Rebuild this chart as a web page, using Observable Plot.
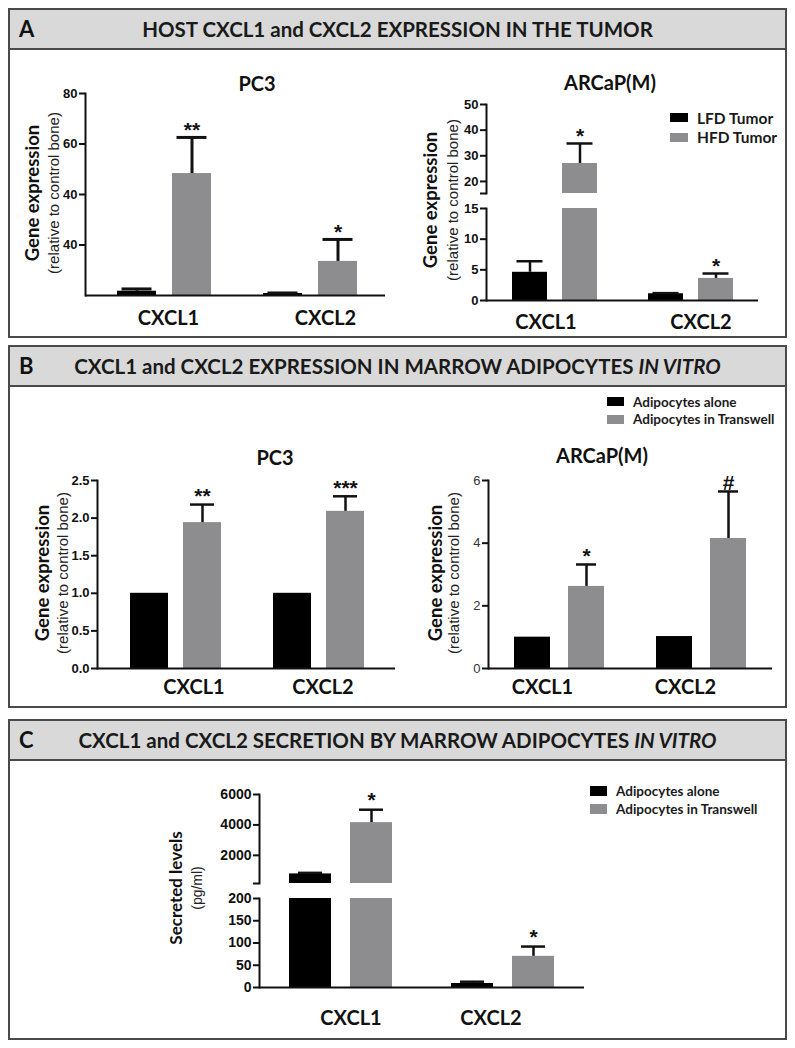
<!DOCTYPE html>
<html>
<head>
<meta charset="utf-8">
<script src="https://cdn.jsdelivr.net/npm/d3@7"></script>
<script src="https://cdn.jsdelivr.net/npm/@observablehq/plot@0.6"></script>
<style>
  body { margin: 0; background: #fff; }
  #page { position: relative; width: 795px; height: 1048px; overflow: hidden; font-family: Lato, "Open Sans", sans-serif; color: #111; }
  .panel { position: absolute; left: 8px; width: 779px; border: 2px solid #4a4a4a; box-sizing: border-box; background: #fff; }
  .hdr { position: absolute; left: 0; right: 0; top: 0; height: 40px; background: #d9d9d9; border-bottom: 2px solid #4a4a4a; box-sizing: border-box; }
  .letter { position: absolute; left: 9px; top: 50%; transform: translateY(-52%); font-weight: 700; font-size: 22px; }
  .htitle { position: absolute; left: 0; right: 0; top: 50%; transform: translateY(-52%); text-align: center; font-weight: 700; font-size: 20.5px; white-space: nowrap; color: #1a1a1a; }
  .abs { position: absolute; }
  .center { position: absolute; transform: translate(-50%, -50%); white-space: nowrap; }
  .ytitle { position: absolute; transform: translate(-50%, -50%) rotate(-90deg); white-space: nowrap; }
  .ymain { font-weight: 700; font-size: 18.5px; }
  .ysub { font-family: "Liberation Sans", Arial, sans-serif; font-size: 15px; color: #222; }
  .ctitle { font-weight: 700; font-size: 20px; }
  .sw { position: absolute; }
  .lg { position: absolute; transform: translateY(-50%); white-space: nowrap; font-weight: 700; color: #1a1a1a; }
  svg text { font-weight: bold; }
  svg.lighttick g[aria-label="y-axis tick label"] text { font-weight: normal; }
</style>
</head>
<body>
<div id="page"></div>
<script>
// ---------------- DATA ----------------
const genes = ["CXCL1", "CXCL2"];

// Panel A — host CXCL1/CXCL2 in the tumor
const seriesA = ["LFD Tumor", "HFD Tumor"];
// PC3
const aPC3_lfd = [1.7, 0.8];
const aPC3_lfdErr = [2.6, 1.0];
const aPC3_hfd = [48.3, 13.5];
const aPC3_hfdErr = [62.6, 22.2];
const aPC3_sig = ["**", "*"];
const aPC3_yTicks = [20, 40, 60, 80];
const aPC3_yTickLabels = ["40", "40", "60", "80"];
// ARCaP(M)
const aARC_lfd = [4.6, 1.1];
const aARC_lfdErr = [6.4, 1.2];
const aARC_hfd = [27.0, 3.6];
const aARC_hfdErr = [34.8, 4.4];
const aARC_sig = ["*", "*"];
const aARC_yTicksLow = [0, 5, 10, 15];
const aARC_yTicksHigh = [20, 30, 40, 50];

// Panel B — expression in marrow adipocytes in vitro
const seriesB = ["Adipocytes alone", "Adipocytes in Transwell"];
// PC3
const bPC3_alone = [1.0, 1.0];
const bPC3_trans = [1.94, 2.09];
const bPC3_transErr = [2.18, 2.29];
const bPC3_sig = ["**", "***"];
const bPC3_yTicks = [0, 0.5, 1.0, 1.5, 2.0, 2.5];
// ARCaP(M)
const bARC_alone = [1.0, 1.02];
const bARC_trans = [2.62, 4.15];
const bARC_transErr = [3.32, 5.65];
const bARC_sig = ["*", "#"];
const bARC_yTicks = [0, 2, 4, 6];

// Panel C — secretion (pg/ml)
const seriesC = ["Adipocytes alone", "Adipocytes in Transwell"];
const c_alone = [780, 9];
const c_aloneErr = [850, 13];
const c_trans = [4150, 70];
const c_transErr = [5000, 92];
const c_sig = ["*", "*"];
const c_yTicksLow = [0, 50, 100, 150, 200];
const c_yTicksHigh = [2000, 4000, 6000];

// ---------------- HELPERS ----------------
const COLORS = ["#000000", "#8d8d90"];
const page = document.getElementById("page");

function rows(v0, e0, v1, e1, sig) {
  const out = [];
  genes.forEach((g, i) => {
    out.push({gene: g, s: 0, value: v0[i], err: e0 ? e0[i] : null, sig: null});
    out.push({gene: g, s: 1, value: v1[i], err: e1 ? e1[i] : null, sig: sig[i]});
  });
  return out;
}

function el(cls, html, style) {
  const d = document.createElement("div");
  d.className = cls;
  d.innerHTML = html;
  Object.assign(d.style, style);
  page.appendChild(d);
  return d;
}

function chart(data, cfg) {
  const ml = 50, mr = 10, mt = 40, mb = 50;
  const {L, R, top, bottom, g1s, g2e, gw, bw, cw, domain} = cfg;
  const width = R - L + ml + mr, height = bottom - top + mt + mb;
  const step = (g2e - gw) - g1s;
  const outerL = g1s - L, outerR = R - g2e;
  const inSeg = d => d.err != null && d.err >= domain[0] && d.err <= domain[1];
  const sw = cfg.errWidth ?? 2.5;
  const marks = [];
  for (const s of [0, 1]) {
    const sd = data.filter(d => d.s === s);
    const ins = s === 0 ? {insetRight: gw - bw} : {insetLeft: gw - bw};
    const c = s === 0 ? bw / 2 : gw - bw / 2;
    const dx = c - gw / 2;
    marks.push(Plot.barY(sd, {x: "gene", y: "value", fill: COLORS[s], clip: true, ...ins}));
    marks.push(Plot.ruleX(sd.filter(d => d.err != null && d.err > d.value),
      {x: "gene", y1: "value", y2: "err", dx, stroke: "#111", strokeWidth: sw, clip: true}));
    marks.push(Plot.tickY(sd.filter(inSeg),
      {x: "gene", y: "err", insetLeft: c - cw / 2, insetRight: gw - c - cw / 2, stroke: "#111", strokeWidth: sw}));
    marks.push(Plot.text(sd.filter(d => d.sig && inSeg(d)),
      {x: "gene", y: "err", text: "sig", dx, dy: cfg.starDy ?? -8, fontSize: 21,
       fontFamily: "Liberation Sans, Arial, sans-serif", fill: "#111", ariaLabel: "sig"}));
  }
  marks.push(Plot.frame({anchor: "left", strokeWidth: 2, stroke: "#111"}));
  marks.push(Plot.axisY({ticks: cfg.ticks, tickFormat: cfg.tickFormat, tickSize: 6, tickPadding: 2,
    fontSize: cfg.tickFontSize ?? 13, strokeWidth: 2,
    fill: cfg.tickColor ?? "#111", label: null}));
  if (cfg.baseline) marks.push(Plot.ruleY([domain[0]], {strokeWidth: 2, stroke: "#111"}));
  if (cfg.labels) {
    genes.forEach((g, i) => {
      marks.push(Plot.axisX({ticks: [g], tickSize: 0, tickPadding: cfg.labelPad, fontSize: 20,
        fontFamily: "Lato, sans-serif", dx: cfg.labelDx[i], label: null, fill: "#111"}));
    });
  }
  const svg = Plot.plot({
    width, height, marginLeft: ml, marginRight: mr, marginTop: mt, marginBottom: mb,
    className: cfg.light ? "lighttick" : undefined,
    style: {background: "transparent", overflow: "visible", fontFamily: "Liberation Sans, Arial, sans-serif", color: "#111"},
    x: {type: "band", domain: genes, paddingInner: (step - gw) / step,
        paddingOuter: (outerL + outerR) / (2 * step), align: outerL / (outerL + outerR), round: false,
        axis: cfg.labels ? undefined : null},
    y: {domain, axis: null},
    marks
  });
  if (cfg.light) svg.classList.add("lighttick");
  svg.querySelectorAll('g[aria-label="sig"] text').forEach(t => {
    t.setAttribute("letter-spacing", "3");
    t.style.fontWeight = "normal";
  });
  const holder = document.createElement("div");
  holder.className = "abs";
  Object.assign(holder.style, {left: (L - ml) + "px", top: (top - mt) + "px", width: width + "px", height: height + "px"});
  holder.appendChild(svg);
  page.appendChild(holder);
}

function legend(x, y, gap, sw, sh, fs, names) {
  names.forEach((n, i) => {
    el("sw", "", {left: x + "px", top: (y + i * gap - sh / 2) + "px", width: sw + "px", height: sh + "px", background: COLORS[i]});
    el("lg", n, {left: (x + sw + 9) + "px", top: (y + i * gap) + "px", fontSize: fs + "px"});
  });
}

// ---------------- PANELS ----------------
el("panel", `<div class="hdr"><div class="letter">A</div><div class="htitle">HOST CXCL1 and CXCL2 EXPRESSION IN THE TUMOR</div></div>`, {top: "8px", height: "330px"});
el("panel", `<div class="hdr"><div class="letter">B</div><div class="htitle">CXCL1 and CXCL2 EXPRESSION IN MARROW ADIPOCYTES <i>IN VITRO</i></div></div>`, {top: "345px", height: "363px"});
el("panel", `<div class="hdr"><div class="letter">C</div><div class="htitle">CXCL1 and CXCL2 SECRETION BY MARROW ADIPOCYTES <i>IN VITRO</i></div></div>`, {top: "719px", height: "321px"});

// ---- A: PC3
const dA1 = rows(aPC3_lfd, aPC3_lfdErr, aPC3_hfd, aPC3_hfdErr, aPC3_sig);
chart(dA1, {L: 85, R: 385, top: 93, bottom: 295, domain: [0, 80], g1s: 117, g2e: 357, gw: 94, bw: 39, cw: 30,
  ticks: aPC3_yTicks, tickFormat: d => aPC3_yTickLabels[aPC3_yTicks.indexOf(d)], baseline: true,
  labels: true, labelPad: 15, labelDx: [4, 15], starDy: -7, errWidth: 3});
el("center ctitle", "PC3", {left: "257px", top: "83px"});
el("ytitle ymain", "Gene expression", {left: "32px", top: "193px"});
el("ytitle ysub", "(relative to control bone)", {left: "53px", top: "193px"});

// ---- A: ARCaP(M) — broken axis
const dA2 = rows(aARC_lfd, aARC_lfdErr, aARC_hfd, aARC_hfdErr, aARC_sig);
const aBreak = 15.3;
chart(dA2, {L: 486, R: 758, top: 104, bottom: 193, domain: [aBreak, 50], g1s: 512, g2e: 733, gw: 85, bw: 35, cw: 26,
  ticks: [aBreak, ...aARC_yTicksHigh], tickFormat: d => d === aBreak ? "" : String(d), baseline: false, labels: false, starDy: -7});
chart(dA2, {L: 486, R: 758, top: 208, bottom: 300, domain: [0, 15], g1s: 512, g2e: 733, gw: 85, bw: 35, cw: 26,
  ticks: aARC_yTicksLow, tickFormat: d => String(d), baseline: true, labels: true, labelPad: 14, labelDx: [-9, 10], starDy: -7});
el("center ctitle", "ARCaP(M)", {left: "610px", top: "82px"});
el("ytitle ymain", "Gene expression", {left: "430px", top: "200px"});
el("ytitle ysub", "(relative to control bone)", {left: "452px", top: "200px"});
legend(670, 117.5, 19.5, 18, 9, 15.5, seriesA);

// ---- B: PC3
const dB1 = rows(bPC3_alone, null, bPC3_trans, bPC3_transErr, bPC3_sig);
chart(dB1, {L: 97, R: 395, top: 480, bottom: 668, domain: [0, 2.5], g1s: 130, g2e: 364, gw: 91, bw: 38, cw: 24,
  ticks: bPC3_yTicks, tickFormat: d => d.toFixed(1), baseline: true, labels: true, labelPad: 11, labelDx: [18, 4], starDy: -8});
el("center ctitle", "PC3", {left: "275px", top: "457px"});
el("ytitle ymain", "Gene expression", {left: "42px", top: "573px"});
el("ytitle ysub", "(relative to control bone)", {left: "62px", top: "573px"});

// ---- B: ARCaP(M)
const dB2 = rows(bARC_alone, null, bARC_trans, bARC_transErr, bARC_sig);
chart(dB2, {L: 488, R: 772, top: 480, bottom: 668, domain: [0, 6], g1s: 514, g2e: 746, gw: 90, bw: 36, cw: 20,
  ticks: bARC_yTicks, tickFormat: d => String(d), tickColor: "#333", light: true, baseline: true,
  labels: true, labelPad: 11, labelDx: [-17, -16], starDy: -8});
el("center ctitle", "ARCaP(M)", {left: "602px", top: "455px"});
el("ytitle ymain", "Gene expression", {left: "435px", top: "573px"});
el("ytitle ysub", "(relative to control bone)", {left: "453px", top: "573px"});
legend(607, 401.5, 17.5, 17, 9, 13.5, seriesB);

// ---- C: secretion — broken axis
const dC = rows(c_alone, c_aloneErr, c_trans, c_transErr, c_sig);
const cBreak = 150;
chart(dC, {L: 259, R: 584, top: 794, bottom: 883, domain: [cBreak, 6000], g1s: 289, g2e: 554, gw: 103, bw: 42, cw: 24,
  ticks: [cBreak, ...c_yTicksHigh], tickFormat: d => d === cBreak ? "" : String(d), tickFontSize: 14, baseline: false, labels: false, starDy: -9});
chart(dC, {L: 259, R: 584, top: 898, bottom: 987, domain: [0, 200], g1s: 289, g2e: 554, gw: 103, bw: 42, cw: 24,
  ticks: c_yTicksLow, tickFormat: d => String(d), tickFontSize: 14, baseline: true, labels: true, labelPad: 23, labelDx: [10, -12], starDy: -9});
el("ytitle ymain", "Secreted levels", {left: "175px", top: "888px", fontSize: "17px"});
el("ytitle ysub", "(pg/ml)", {left: "197px", top: "888px", fontSize: "14px"});
legend(590, 791, 18, 17, 10, 13.5, seriesC);
</script>
</body>
</html>
